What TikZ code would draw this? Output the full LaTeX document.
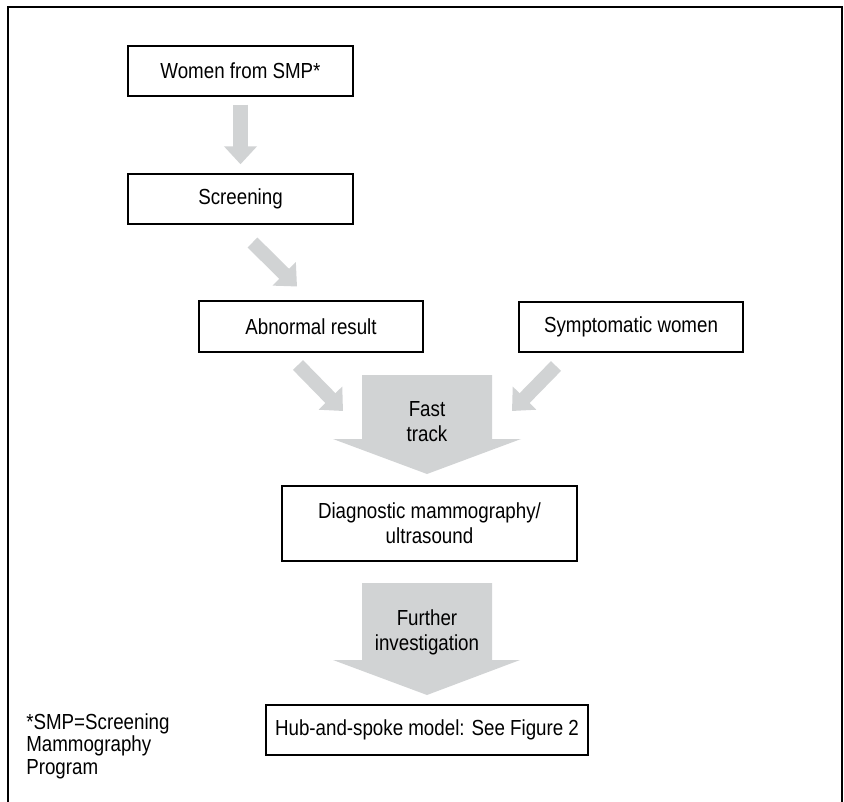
\documentclass[tikz,border=0pt]{standalone}
\usepackage{fontspec}
\setmainfont{Liberation Sans}[FakeStretch=0.86]
\usetikzlibrary{arrows.meta}
\definecolor{arrowgray}{RGB}{209,211,212}
\tikzstyle{box}=[rectangle,draw,line width=1pt,inner sep=0pt,align=center,font=\fontsize{15.5}{17.8}\selectfont]
\tikzstyle{flow}=[draw=arrowgray,line width=0.35cm,-{Triangle[length=0.45cm,width=0.8cm,fill=arrowgray]}]
\tikzstyle{label}=[inner sep=0pt,align=center,font=\fontsize{15.5}{17.8}\selectfont]

\begin{document}
\begin{tikzpicture}[x=0.025cm,y=-0.025cm]
            \useasboundingbox (0,0) rectangle (844,802);
            \draw[line width=1pt] (8,802) -- (8,7) -- (842,7) -- (842,802);
            % boxes
            \node (w) at (240.5,71) [box,minimum width=5.625cm,minimum height=1.25cm] {Women from SMP*};
            \node (s) at (240.5,199) [box,minimum width=5.625cm,minimum height=1.25cm] {Screening};
            \node (a) at (311,326.5) [box,minimum width=5.6cm,minimum height=1.275cm] {Abnormal result};
            \node (y) at (631,327) [box,minimum width=5.6cm,minimum height=1.25cm] {Symptomatic women};
            \node (d) at (429.5,523.5) [box,minimum width=7.375cm,minimum height=1.875cm] {Diagnostic mammography/\\ultrasound};
            \node (h) at (427,730) [box,minimum width=8.05cm,minimum height=1.25cm] {Hub-and-spoke model: See Figure 2};
            % big arrows
            \fill[arrowgray] (362,375) -- (492,375) -- (492,439) -- (521,439) -- (427,474) -- (333,439) -- (362,439) -- cycle;
            \node (f) at (427,422) [label] {Fast\\track};
            \fill[arrowgray] (362,583) -- (492,583) -- (492,660) -- (520,660) -- (427,695) -- (333,660) -- (362,660) -- cycle;
            \node (i) at (427,632) [label] {Further\\investigation};
            % small arrows
            \coordinate (s1) at (252.5,242.5);
            \coordinate (a0) at (297,286.5);
            \coordinate (a1) at (298,365);
            \coordinate (f1) at (343,411);
            \coordinate (y1) at (556,366);
            \coordinate (f2) at (512,411);
            \draw[flow,shorten <=0.2cm,shorten >=0.225cm] (w) -- (s);
            \draw[flow] (s1) -- (a0);
            \draw[flow] (a1) -- (f1);
            \draw[flow] (y1) -- (f2);
            \node (n) at (26,713) [label,anchor=north west,align=left,font=\fontsize{15.5}{16}\selectfont] {*SMP=Screening\\Mammography\\Program};
        \end{tikzpicture}
\end{document}
